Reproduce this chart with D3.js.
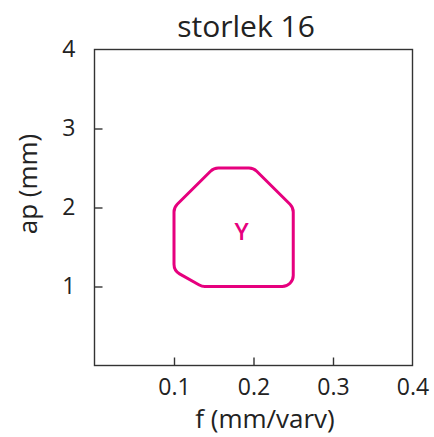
<!DOCTYPE html>
<html><head><meta charset="utf-8">
<script src="https://cdn.jsdelivr.net/npm/d3@7"></script>
<style>body{margin:0;background:#fff}svg{display:block}text{font-family:"Open Sans",Lato,sans-serif;fill:#222}</style>
</head><body><svg id="c" width="434" height="437"></svg>
<script>
const title = "storlek 16";
const xTicks = [0.1, 0.2, 0.3, 0.4];
const yTicks = [1, 2, 3, 4];
const regionF = [0.1, 0.15, 0.2, 0.25, 0.25, 0.135, 0.1];
const regionAp = [2.0, 2.5, 2.5, 2.0, 1.0, 1.0, 1.2];
const regionLabel = {name: "Y", f: 0.185, ap: 1.7};

const svg = d3.select("#c");
const x = d3.scaleLinear().domain([0, 0.4]).range([94.5, 412.5]);
const y = d3.scaleLinear().domain([0, 4]).range([365.5, 49.5]);

svg.append("rect").attr("x", x(0)).attr("y", y(4)).attr("width", x(0.4)-x(0)).attr("height", y(0)-y(4))
  .attr("fill", "none").attr("stroke", "#333").attr("stroke-width", 1.4);

const xa = svg.append("g").attr("transform", `translate(0,${y(0)})`)
  .call(d3.axisBottom(x).tickValues(xTicks).tickSizeInner(-8).tickSizeOuter(0).tickPadding(13).tickFormat(d3.format(".1f")));
const ya = svg.append("g").attr("transform", `translate(${x(0)},0)`)
  .call(d3.axisLeft(y).tickValues(yTicks).tickSizeInner(-8).tickSizeOuter(0).tickPadding(19).tickFormat(d3.format("d")));
[xa, ya].forEach(a => {
  a.select(".domain").remove();
  a.selectAll("line").attr("stroke", "#333").attr("stroke-width", 1.4);
  a.selectAll("text").attr("font-size", 23).style("font-family", "'Open Sans', sans-serif").attr("fill", "#222");
});
xa.selectAll("line").filter(d => d === 0.4).remove();
ya.selectAll("line").filter(d => d === 4).remove();

const pts = regionF.map((f, i) => [x(f), y(regionAp[i])]);
function roundedPath(p, r) {
  const n = p.length; let d = "";
  for (let i = 0; i < n; i++) {
    const a = p[(i - 1 + n) % n], b = p[i], c = p[(i + 1) % n];
    const v1 = [a[0]-b[0], a[1]-b[1]], v2 = [c[0]-b[0], c[1]-b[1]];
    const l1 = Math.hypot(...v1), l2 = Math.hypot(...v2);
    const cosT = (v1[0]*v2[0]+v1[1]*v2[1])/(l1*l2);
    const ang = Math.acos(Math.max(-1, Math.min(1, cosT)));
    let t = r / Math.tan(ang/2);
    t = Math.min(t, l1/2.2, l2/2.2);
    const rr = t * Math.tan(ang/2);
    const s = [b[0]+v1[0]/l1*t, b[1]+v1[1]/l1*t], e = [b[0]+v2[0]/l2*t, b[1]+v2[1]/l2*t];
    const cross = v1[0]*v2[1]-v1[1]*v2[0];
    d += (i === 0 ? "M" : "L") + s[0] + "," + s[1] + "A" + rr + "," + rr + " 0 0 " + (cross < 0 ? 1 : 0) + " " + e[0] + "," + e[1];
  }
  return d + "Z";
}
svg.append("path").attr("d", roundedPath(pts, 11)).attr("fill", "none")
  .attr("stroke", "#E6007E").attr("stroke-width", 3).attr("stroke-linejoin", "round");
svg.append("text").attr("x", x(regionLabel.f)).attr("y", y(regionLabel.ap)).attr("text-anchor", "middle")
  .attr("dy", "0.36em").attr("font-size", 24).attr("font-weight", 600).style("fill", "#E6007E").text(regionLabel.name);

svg.append("text").attr("x", 246).attr("y", 37).attr("text-anchor", "middle").attr("font-size", 30).text(title);
svg.append("text").attr("x", 265).attr("y", 428).attr("text-anchor", "middle").attr("font-size", 26).text("f (mm/varv)");
svg.append("text").attr("transform", "translate(37,184) rotate(-90)").attr("text-anchor", "middle").attr("font-size", 26).text("ap (mm)");
</script></body></html>
